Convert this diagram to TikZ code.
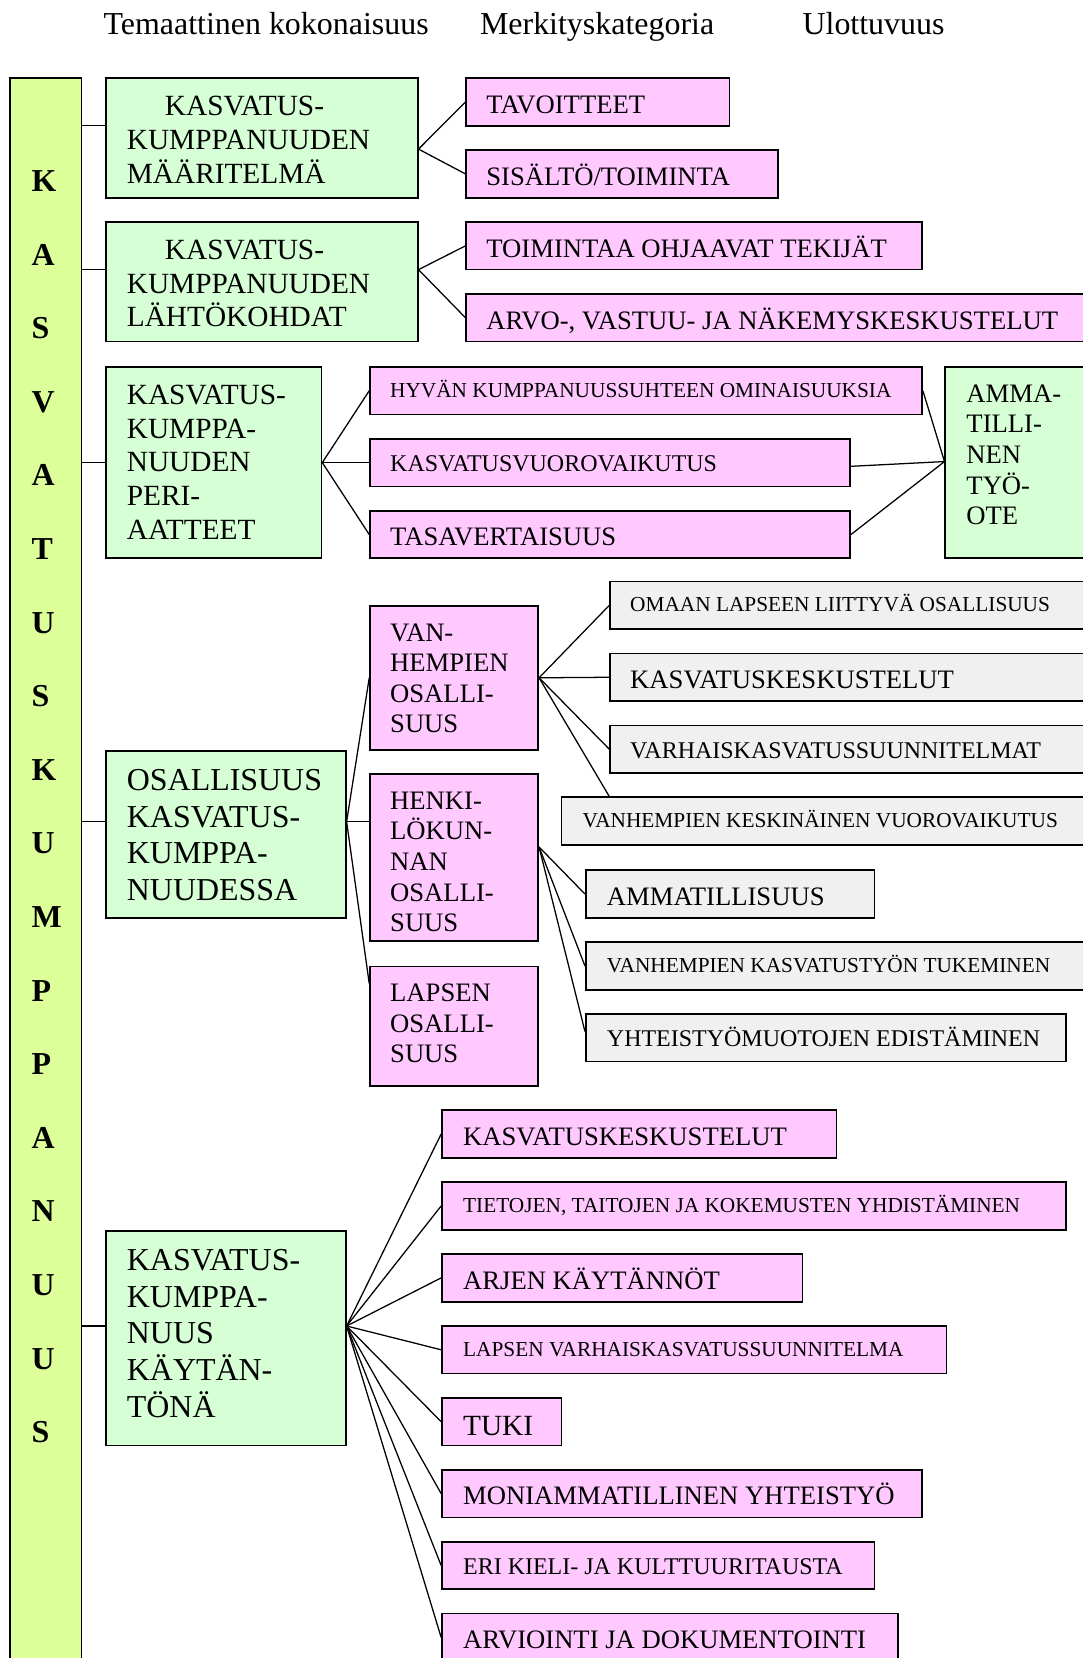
\documentclass[tikz,border=0pt]{standalone}
\usepackage{fontspec}
\setmainfont{Liberation Serif}
\usetikzlibrary{fit,calc}
\definecolor{barc}{HTML}{DDFF99}
\definecolor{grn}{HTML}{D6FFD6}
\definecolor{pnk}{HTML}{FFC9FF}
\definecolor{gry}{HTML}{F0F0F0}
\newcommand{\szA}{\fontsize{15.1pt}{17.4pt}\selectfont}
\newcommand{\szB}{\fontsize{13.86pt}{15.9pt}\selectfont}
\newcommand{\szC}{\fontsize{12.6pt}{14.5pt}\selectfont}
\newcommand{\szD}{\fontsize{11.34pt}{13pt}\selectfont}
\newcommand{\szE}{\fontsize{10.08pt}{11.6pt}\selectfont}
\tikzset{
  boxbase/.style={draw=black, line width=0.8pt, inner sep=0pt, rectangle},
  greenbox/.style={boxbase, fill=grn},
  pinkbox/.style={boxbase, fill=pnk},
  graybox/.style={boxbase, fill=gry},
  barbox/.style={boxbase, fill=barc},
  txt/.style={anchor=base west, inner sep=0pt, outer sep=0pt, text=black},
  link/.style={draw=black, line width=0.6pt},
}
\begin{document}
\begin{tikzpicture}[x=0.5pt,y=-0.5pt]
\useasboundingbox (0,0) rectangle (1024,1568);
\clip (0,0) rectangle (1024,1568);
\fill[white] (0,0) rectangle (1024,1568);

% headers
\node[txt,font=\szA] (h1) at (98,33) {Temaattinen kokonaisuus};
\node[txt,font=\szA] (h2) at (454,33) {Merkityskategoria};
\node[txt,font=\szA] (h3) at (759,33) {Ulottuvuus};

% left bar
\node[barbox, fit={(9.5,74) (77,1600)}] (bar) {};
\foreach \L [count=\i from 0] in {K,A,S,V,A,T,U,S,K,U,M,P,P,A,N,U,U,S}
  \node[txt, font=\szA\bfseries] (bl\i) at (30, {181.2+69.6*\i}) {\L};

% green boxes
\node[greenbox, fit={(100,74) (395,187)}] (g1) {};
\node[txt,font=\szB] (g1a) at (156,109.4) {KASVATUS-};
\node[txt,font=\szB] (g1b) at (120,141.3) {KUMPPANUUDEN};
\node[txt,font=\szB] (g1c) at (120,173.2) {MÄÄRITELMÄ};

\node[greenbox, fit={(100,210) (395,323)}] (g2) {};
\node[txt,font=\szB] (g2a) at (156,245.4) {KASVATUS-};
\node[txt,font=\szB] (g2b) at (120,277.3) {KUMPPANUUDEN};
\node[txt,font=\szB] (g2c) at (120,309.2) {LÄHTÖKOHDAT};

\node[greenbox, fit={(100,347) (304,528)}] (g3) {};
\foreach \t [count=\i from 0] in {KASVATUS-,KUMPPA-,NUUDEN,PERI-,AATTEET}
  \node[txt,font=\szB] (g3t\i) at (120,{382.4+31.9*\i}) {\t};

\node[greenbox, fit={(100,710) (327,868)}] (g4) {};
\foreach \t [count=\i from 0] in {OSALLISUUS,KASVATUS-,KUMPPA-,NUUDESSA}
  \node[txt,font=\szA] (g4t\i) at (120,{747.6+34.7*\i}) {\t};

\node[greenbox, fit={(100,1164) (327,1367)}] (g5) {};
\foreach \t [count=\i from 0] in {KASVATUS-,KUMPPA-,NUUS,KÄYTÄN-,TÖNÄ}
  \node[txt,font=\szA] (g5t\i) at (120,{1201.6+34.7*\i}) {\t};

\node[greenbox, fit={(894,347) (1040,528)}] (amma) {};
\foreach \t [count=\i from 0] in {AMMA-,TILLI-,NEN,TYÖ-,OTE}
  \node[txt,font=\szC] (ammat\i) at (914,{380.2+29*\i}) {\t};

% pink boxes (top)
\node[pinkbox, fit={(441,74) (690,119)}] (p1) {};
\node[txt,font=\szC] (p1t) at (460,107.2) {TAVOITTEET};
\node[pinkbox, fit={(441,142) (736,187)}] (p2) {};
\node[txt,font=\szC] (p2t) at (460,175.2) {SISÄLTÖ/TOIMINTA};
\node[pinkbox, fit={(441,210) (872,255)}] (p3) {};
\node[txt,font=\szC] (p3t) at (460,243.2) {TOIMINTAA OHJAAVAT TEKIJÄT};
\node[pinkbox, fit={(441,278) (1040,323)}] (p4) {};
\node[txt,font=\szC] (p4t) at (460,311.2) {ARVO-, VASTUU- JA NÄKEMYSKESKUSTELUT};
\node[pinkbox, fit={(350,347) (872,392)}] (p5) {};
\node[txt,font=\szE] (p5t) at (369,375.7) {HYVÄN KUMPPANUUSSUHTEEN OMINAISUUKSIA};
\node[pinkbox, fit={(350,415) (804,460)}] (p6) {};
\node[txt,font=\szD] (p6t) at (369,445.9) {KASVATUSVUOROVAIKUTUS};
\node[pinkbox, fit={(350,483) (804,528)}] (p7) {};
\node[txt,font=\szC] (p7t) at (369,516.2) {TASAVERTAISUUS};

\node[pinkbox, fit={(350,573) (509,709)}] (van) {};
\foreach \t [count=\i from 0] in {VAN-,HEMPIEN,OSALLI-,SUUS}
  \node[txt,font=\szC] (vant\i) at (369,{606.2+29*\i}) {\t};
\node[pinkbox, fit={(350,732) (509,890)}] (henki) {};
\foreach \t [count=\i from 0] in {HENKI-,LÖKUN-,NAN,OSALLI-,SUUS}
  \node[txt,font=\szC] (henkit\i) at (369,{765.2+29*\i}) {\t};
\node[pinkbox, fit={(350,914) (509,1027)}] (lap) {};
\foreach \t [count=\i from 0] in {LAPSEN,OSALLI-,SUUS}
  \node[txt,font=\szC] (lapt\i) at (369,{947.2+29*\i}) {\t};

% gray boxes
\node[graybox, fit={(577,550) (1040,595)}] (r1) {};
\node[txt,font=\szE] (r1t) at (596,578.7) {OMAAN LAPSEEN LIITTYVÄ OSALLISUUS};
\node[graybox, fit={(577,618) (1040,663)}] (r2) {};
\node[txt,font=\szC] (r2t) at (596,651.2) {KASVATUSKESKUSTELUT};
\node[graybox, fit={(577,686) (1040,731)}] (r3) {};
\node[txt,font=\szD] (r3t) at (596,716.9) {VARHAISKASVATUSSUUNNITELMAT};
\node[graybox, fit={(531,754) (1040,799)}] (r4) {};
\node[txt,font=\szE] (r4t) at (551,782.7) {VANHEMPIEN KESKINÄINEN VUOROVAIKUTUS};
\node[graybox, fit={(554,823) (827,868)}] (r5) {};
\node[txt,font=\szC] (r5t) at (574,856.2) {AMMATILLISUUS};
\node[graybox, fit={(554,891) (1040,936)}] (r6) {};
\node[txt,font=\szE] (r6t) at (574,919.7) {VANHEMPIEN KASVATUSTYÖN TUKEMINEN};
\node[graybox, fit={(554,959) (1008,1004)}] (r7) {};
\node[txt,font=\szD] (r7t) at (574,989.9) {YHTEISTYÖMUOTOJEN EDISTÄMINEN};

% pink boxes (bottom)
\node[pinkbox, fit={(418,1050) (791,1095)}] (q1) {};
\node[txt,font=\szC] (q1t) at (438,1083.2) {KASVATUSKESKUSTELUT};
\node[pinkbox, fit={(418,1118) (1008,1163)}] (q2) {};
\node[txt,font=\szE] (q2t) at (438,1146.7) {TIETOJEN, TAITOJEN JA KOKEMUSTEN YHDISTÄMINEN};
\node[pinkbox, fit={(418,1186) (759,1231)}] (q3) {};
\node[txt,font=\szC] (q3t) at (438,1219.2) {ARJEN KÄYTÄNNÖT};
\node[pinkbox, fit={(418,1254) (895,1299)}] (q4) {};
\node[txt,font=\szE] (q4t) at (438,1282.7) {LAPSEN VARHAISKASVATUSSUUNNITELMA};
\node[pinkbox, fit={(418,1322) (531,1367)}] (q5) {};
\node[txt,font=\szB] (q5t) at (438,1357.4) {TUKI};
\node[pinkbox, fit={(418,1390) (872,1435)}] (q6) {};
\node[txt,font=\szC] (q6t) at (438,1423.2) {MONIAMMATILLINEN YHTEISTYÖ};
\node[pinkbox, fit={(418,1458) (827,1503)}] (q7) {};
\node[txt,font=\szD] (q7t) at (438,1488.9) {ERI KIELI- JA KULTTUURITAUSTA};
\node[pinkbox, fit={(418,1526) (849,1571)}] (q8) {};
\node[txt,font=\szC] (q8t) at (438,1559.2) {ARVIOINTI JA DOKUMENTOINTI};

% connector points
\coordinate (g1in) at ($(g1.west)+(0,-11.5)$);
\coordinate (g1out) at ($(g1.east)+(0,10.5)$);
\coordinate (g2in) at ($(g2.west)+(0,-11.5)$);
\coordinate (g2out) at ($(g2.east)+(0,-11.5)$);
\coordinate (g3in) at (g3.west);
\coordinate (g3out) at (g3.east);
\coordinate (g4in) at ($(g4.west)+(0,-12)$);
\coordinate (g4out) at ($(g4.east)+(0,-12)$);
\coordinate (g5in) at ($(g5.west)+(0,-11.5)$);
\coordinate (g5out) at ($(g5.east)+(0,-11.5)$);
\coordinate (vanout) at (van.east);
\coordinate (henkiout) at ($(henki.east)+(0,-10)$);
\coordinate (ammain) at ($(amma.west)+(0,-1)$);
\coordinate (lapin) at ($(lap.north west)+(0,17)$);
\coordinate (r4in) at (r4.north west -| r1.west);
\coordinate (r7in) at ($(r7.west)+(0,-6)$);
\coordinate (p6out) at ($(p6.east)+(0,3.5)$);

% bar to themes
\foreach \g in {g1in,g2in,g3in,g4in,g5in}
  \draw[link] (\g -| bar.east) -- (\g);

% fans
\draw[link] (g1out) -- (p1.west);
\draw[link] (g1out) -- (p2.west);
\draw[link] (g2out) -- (p3.west);
\draw[link] (g2out) -- (p4.west);
\draw[link] (g3out) -- (p5.west);
\draw[link] (g3out) -- (p6.west);
\draw[link] (g3out) -- (p7.west);
\draw[link] (p5.east) -- (ammain);
\draw[link] (p6out) -- (ammain);
\draw[link] (p7.east) -- (ammain);
\draw[link] (g4out) -- (van.west);
\draw[link] (g4out) -- (g4out -| henki.west);
\draw[link] (g4out) -- (lapin);
\draw[link] (vanout) -- (r1.west);
\draw[link] (vanout) -- (r2.west);
\draw[link] (vanout) -- (r3.west);
\draw[link] (vanout) -- (r4in);
\draw[link] (henkiout) -- (r5.west);
\draw[link] (henkiout) -- (r6.west);
\draw[link] (henkiout) -- (r7in);
\foreach \q in {q1,q2,q3,q4,q5,q6,q7,q8}
  \draw[link] (g5out) -- (\q.west);
\end{tikzpicture}
\end{document}
